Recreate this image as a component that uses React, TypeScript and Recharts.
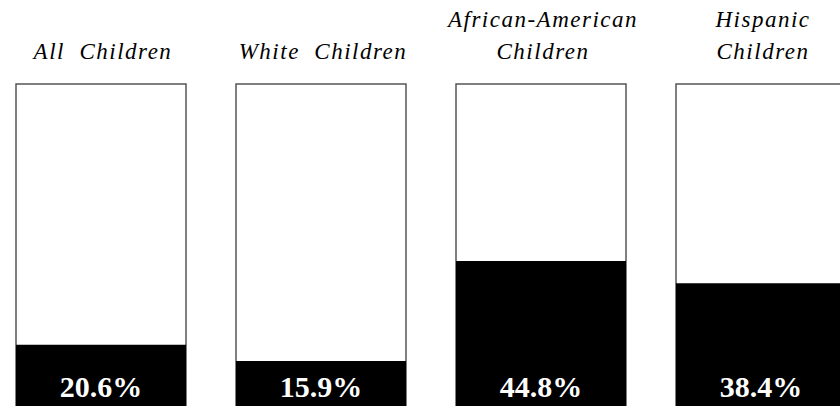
import React from "react"
import { BarChart, Bar, XAxis, YAxis, LabelList } from "recharts"

// child poverty rate by group, percent
const groups = ["All  Children", "White  Children", "African-American\nChildren", "Hispanic\nChildren"]
const rates = [20.6, 15.9, 44.8, 38.4]

const data = groups.map((group, i) => ({ group, rate: rates[i] }))

const SERIF = "Liberation Serif, DejaVu Serif, serif"

const GroupTick = (props: any) => {
	const { x, y, payload } = props
	const lines = String(payload.value).split("\n")
	const last = lines.length - 1
	return (
		<g>
			{lines.map((line, i) => (
				<text
					key={i}
					x={x + 2}
					y={y - 25 - (last - i) * 32}
					textAnchor="middle"
					fontSize={23}
					fill="#000"
					style={{
						fontFamily: SERIF,
						fontStyle: "italic",
						letterSpacing: 1.5,
						whiteSpace: "pre",
					}}>
					{line}
				</text>
			))}
		</g>
	)
}

const RateLabel = (props: any) => {
	const { x, y, width, height, value } = props
	return (
		<text
			x={x + width / 2}
			y={y + height - 19}
			textAnchor="middle"
			fontSize={30}
			fill="#fff"
			style={{ fontFamily: SERIF, fontWeight: "bold" }}>
			{`${Number(value).toFixed(1)}%`}
		</text>
	)
}

export default function App() {
	return (
		<div
			style={{
				position: "absolute",
				left: 0,
				top: 0,
				width: 840,
				height: 406,
				overflow: "hidden",
				background: "#fff",
			}}>
			<div style={{ position: "absolute", left: -9, top: 0 }}>
				<BarChart
					width={880}
					height={420}
					data={data}
					barCategoryGap={25}
					margin={{ top: 0, right: 0, bottom: 4, left: 0 }}>
					<XAxis
						dataKey="group"
						orientation="top"
						height={84}
						axisLine={false}
						tickLine={false}
						tickSize={0}
						tickMargin={0}
						interval={0}
						tick={<GroupTick />}
					/>
					<YAxis hide domain={[0, 96]} />
					<Bar
						dataKey="rate"
						fill="#000"
						barSize={170}
						isAnimationActive={false}
						background={{ fill: "#fff", stroke: "#555", strokeWidth: 1.5 }}>
						<LabelList dataKey="rate" content={<RateLabel />} />
					</Bar>
				</BarChart>
			</div>
		</div>
	)
}
